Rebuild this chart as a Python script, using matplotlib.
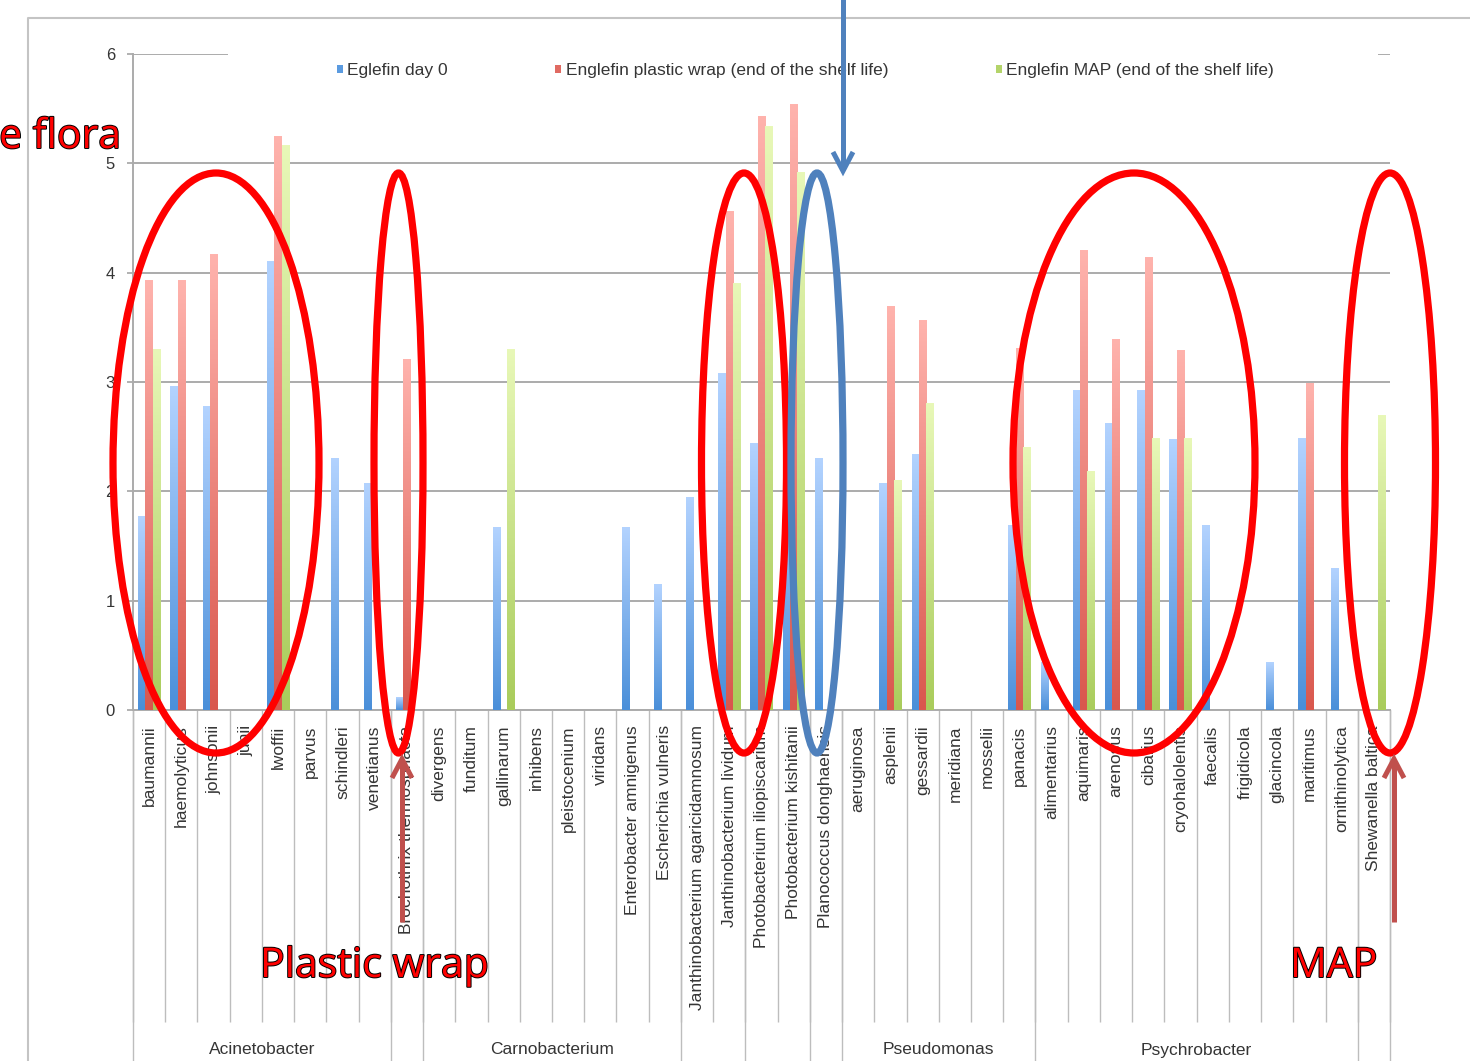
import numpy as np
import matplotlib
matplotlib.use("Agg")
import matplotlib.pyplot as plt
from matplotlib.colors import LinearSegmentedColormap
from matplotlib.patches import Ellipse, Rectangle, Patch
from matplotlib.lines import Line2D
from matplotlib import transforms, patheffects

# ---------------- data ----------------
species = [
    "baumannii", "haemolyticus", "johnsonii", "junii", "lwoffii", "parvus",
    "schindleri", "venetianus", "Brochothrix thermosphacta", "divergens",
    "funditum", "gallinarum", "inhibens", "pleistocenium", "viridans",
    "Enterobacter amnigenus", "Escherichia vulneris",
    "Janthinobacterium agaricidamnosum", "Janthinobacterium lividum",
    "Photobacterium iliopiscarium", "Photobacterium kishitanii",
    "Planococcus donghaensis", "aeruginosa", "asplenii", "gessardii",
    "meridiana", "mosselii", "panacis", "alimentarius", "aquimaris",
    "arenosus", "cibarius", "cryohalolentis", "faecalis", "frigidicola",
    "glacincola", "maritimus", "ornithinolytica", "Shewanella baltica",
]
day0 = [1.77, 2.96, 2.78, 0, 4.10, 0, 2.30, 2.07, 0.11, 0,
        0, 1.67, 0, 0, 0, 1.67, 1.15, 1.94, 3.08, 2.44,
        2.60, 2.30, 0, 2.07, 2.34, 0, 0, 1.69, 0.43, 2.92,
        2.62, 2.92, 2.47, 1.69, 0, 0.43, 2.48, 1.29, 0]
plastic = [3.93, 3.93, 4.17, 0, 5.25, 0, 0, 0, 3.21, 0,
           0, 0, 0, 0, 0, 0, 0, 0, 4.56, 5.43,
           5.54, 0, 0, 3.69, 3.56, 0, 0, 3.31, 0, 4.20,
           3.39, 4.14, 3.29, 0, 0, 0, 2.99, 0, 0]
map_end = [3.30, 0, 0, 0, 5.16, 0, 0, 0, 0, 0,
           0, 3.30, 0, 0, 0, 0, 0, 0, 3.90, 5.34,
           4.92, 0, 0, 2.10, 2.80, 0, 0, 2.40, 0, 2.18,
           0, 2.48, 2.48, 0, 0, 0, 0, 0, 2.69]
series_names = ["Eglefin day 0",
                "Englefin plastic wrap (end of the shelf life)",
                "Englefin MAP (end of the shelf life)"]
groups = ["Acinetobacter", "", "Carnobacterium", "", "", "", "Pseudomonas",
          "Psychrobacter", ""]
group_sizes = [8, 1, 8, 2, 2, 1, 6, 10, 1]
yticks = [0, 1, 2, 3, 4, 5, 6]

# ---------------- style ----------------
W, H, DPI = 1470, 1061, 100
FONT = "Liberation Sans"
TXT = "#353535"
GRID = "#ababab"
grad = [("#4a8fd9", "#b3d3ff"), ("#d9574d", "#ffb3ad"), ("#a9cc5b", "#e8f8b8")]
legend_cols = ["#5b9be0", "#e06a62", "#b4d46a"]

fig = plt.figure(figsize=(W / DPI, H / DPI), dpi=DPI)
pix = transforms.Affine2D().scale(1 / DPI, -1 / DPI).translate(0, H / DPI) + fig.dpi_scale_trans

ax = fig.add_axes([133 / W, (H - 710) / H, 1257 / W, 656 / H])
n = len(species)
x = np.arange(n) + 0.5
bw = 0.228

for k, vals in enumerate([day0, plastic, map_end]):
    bars = ax.bar(x + (k - 1) * bw, vals, width=bw, color="none", linewidth=0, zorder=3)
    cmap = LinearSegmentedColormap.from_list("g%d" % k, [grad[k][0], grad[k][1]])
    g = np.linspace(0, 1, 256).reshape(-1, 1)
    for p in bars:
        h = p.get_height()
        if h <= 0:
            continue
        ax.imshow(g, cmap=cmap, origin="lower", aspect="auto", interpolation="bilinear",
                  extent=[p.get_x(), p.get_x() + p.get_width(), 0, h], zorder=3)

ax.set_xlim(0, n)
ax.set_ylim(0, 6)
ax.set_aspect("auto")

# y axis
ax.set_yticks(yticks)
ax.set_yticklabels([str(v) for v in yticks], fontsize=12, color=TXT, family=FONT)
ax.tick_params(axis="y", length=4, width=1.3, color=GRID, pad=9)
ax.yaxis.grid(True, color=GRID, linewidth=1.4, zorder=0)
ax.set_axisbelow(True)

# x axis: separators as long major ticks, labels on minor ticks
ax.set_xticks(np.arange(n + 1))
ax.set_xticklabels([""] * (n + 1))
ax.tick_params(axis="x", which="major", length=312 * 0.72, width=1.0, color="#bdbdbd")
ax.set_xticks(x, minor=True)
ax.set_xticklabels(species, minor=True, rotation=90, fontsize=12.5, color=TXT, family=FONT)
ax.tick_params(axis="x", which="minor", length=0, pad=11)

for s in ["top", "right"]:
    ax.spines[s].set_visible(False)
for s in ["left", "bottom"]:
    ax.spines[s].set_color(GRID)
    ax.spines[s].set_linewidth(1.4)

# group level
blend = transforms.blended_transform_factory(ax.transData, pix)
bounds = np.concatenate([[0], np.cumsum(group_sizes)])
for b in bounds:
    ax.add_line(Line2D([b, b], [710, 1070], transform=blend, color="#bdbdbd",
                       linewidth=1.0, clip_on=False, zorder=1))
for gname, a, b in zip(groups, bounds[:-1], bounds[1:]):
    if gname:
        ax.text((a + b) / 2, 1050, gname, transform=blend, ha="center", va="center",
                fontsize=12.5, color=TXT, family=FONT)

# legend (with white box hiding the top gridline)
ax.add_patch(Rectangle((228, 46), 1150, 16, transform=pix, facecolor="white",
                       edgecolor="none", clip_on=False, zorder=2))
handles = [Patch(facecolor=c, edgecolor="none") for c in legend_cols]
leg = ax.legend(handles, series_names, loc="center left", bbox_to_anchor=(328, 71),
                bbox_transform=pix, ncol=3, frameon=False, borderpad=0,
                handlelength=0.35, handleheight=0.35, handletextpad=0.25,
                columnspacing=6.2, prop={"family": FONT, "size": 12.5})
for t in leg.get_texts():
    t.set_color(TXT)

# chart border
fig.add_artist(Line2D([28, 28, 1480], [1080, 18, 18], transform=pix, color="#c4c4c4",
                      linewidth=1.5))

# ---------------- overlay annotations ----------------
for cx, w, col in [(216, 206, "#ff0000"), (398.5, 49, "#ff0000"), (744, 85, "#ff0000"),
                   (817, 52, "#4f81bd"), (1134, 242, "#ff0000"), (1390, 91, "#ff0000")]:
    fig.add_artist(Ellipse((cx, 463), w, 580, transform=pix, fill=False,
                           edgecolor=col, linewidth=5.2, zorder=10))

def arrow(xs, ys, col):
    fig.add_artist(Line2D(xs, ys, transform=pix, color=col, linewidth=3.6,
                          solid_capstyle="butt", solid_joinstyle="miter", zorder=11))

# blue arrow from the top
arrow([843, 843], [-5, 170], "#4f81bd")
arrow([833, 843, 853], [152, 171, 152], "#4f81bd")
# brown arrows from the bottom
for xa in [402, 1394]:
    arrow([xa, xa], [922, 760], "#c0504d")
    arrow([xa - 10, xa, xa + 10], [778, 759, 778], "#c0504d")

pe = [patheffects.withStroke(linewidth=1.4, foreground="black")]
for txt, tx, ty, ha in [("e flora", 121, 148, "right"), ("Plastic wrap", 260, 977, "left"),
                        ("MAP", 1290, 977, "left")]:
    fig.text(tx, ty, txt, transform=pix, ha=ha, va="baseline", fontsize=29.5,
             family="Open Sans", color="#ff0000", path_effects=pe, zorder=12)

fig.savefig("out.png", dpi=DPI)
